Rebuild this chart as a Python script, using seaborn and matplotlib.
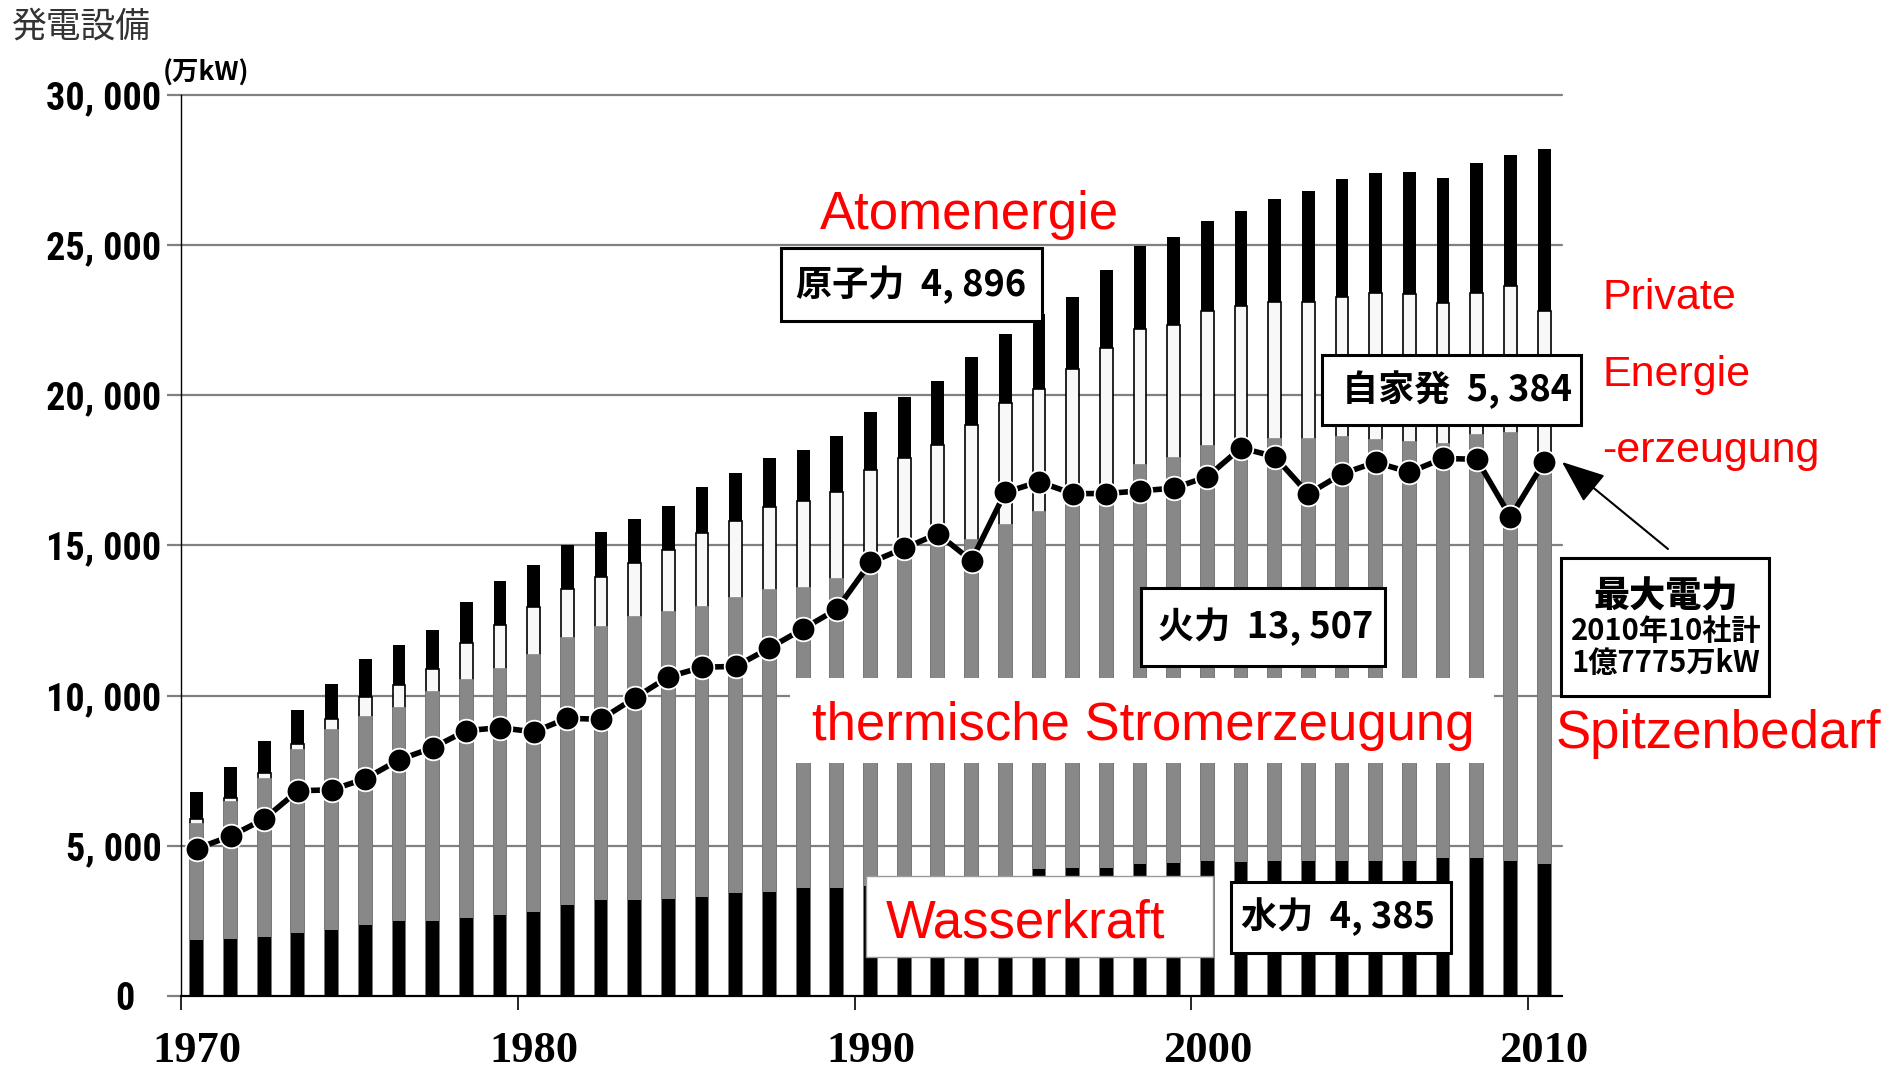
import matplotlib
matplotlib.use("Agg")
import numpy as np
import pandas as pd
import matplotlib.pyplot as plt
import seaborn as sns
from matplotlib import font_manager as fm
from matplotlib.patches import Rectangle

# ---------------- data (万kW) ----------------
years = list(range(1970, 2011))
hydro = [1850, 1890, 1950, 2100, 2200, 2350, 2480, 2480, 2580, 2680,
         2810, 3020, 3180, 3180, 3220, 3280, 3420, 3470, 3590, 3590,
         3650, 3720, 3800, 3880, 3950, 4230, 4250, 4270, 4390, 4440,
         4480, 4470, 4480, 4480, 4490, 4500, 4500, 4580, 4590, 4500, 4385]
thermal = [3870, 4560, 5280, 6100, 6640, 6950, 7120, 7650, 7920, 8210,
           8550, 8910, 9100, 9420, 9550, 9660, 9840, 10030, 9980, 10280,
           10650, 11080, 11450, 11280, 11730, 11880, 12350, 12480, 13290, 13450,
           13810, 14060, 14050, 14050, 14110, 13990, 13930, 13790, 14070, 14220, 13507]
nuclear = [170, 150, 190, 200, 380, 660, 760, 760, 1240, 1470,
           1580, 1630, 1670, 1820, 2070, 2460, 2550, 2770, 2900, 2910,
           3210, 3110, 3100, 3830, 4040, 4100, 4250, 4800, 4500, 4440,
           4500, 4440, 4570, 4570, 4650, 4920, 4940, 4690, 4750, 4920, 4896]
private = [890, 1010, 1070, 1120, 1160, 1260, 1310, 1300, 1380, 1440,
           1390, 1450, 1480, 1470, 1460, 1530, 1590, 1630, 1700, 1840,
           1920, 2040, 2120, 2260, 2320, 2490, 2410, 2610, 2770, 2930,
           2990, 3150, 3430, 3690, 3950, 3980, 4060, 4170, 4300, 4360, 5384]
peak = [4905, 5320, 5890, 6830, 6860, 7230, 7860, 8260, 8830, 8930,
        8790, 9240, 9210, 9920, 10620, 10940, 10970, 11580, 12220, 12870,
        14430, 14900, 15380, 14490, 16760, 17110, 16720, 16720, 16810, 16900,
        17280, 18240, 17950, 16710, 17380, 17760, 17430, 17890, 17860, 15940, 17775]

ytick_values = [0, 5000, 10000, 15000, 20000, 25000, 30000]
ytick_labels = ["0   ", "5, 000", "10, 000", "15, 000", "20, 000", "25, 000", "30, 000"]
xtick_years = [1970, 1980, 1990, 2000, 2010]
xtick_labels = ["1970", "1980", "1990", "2000", "2010"]

# ---------------- style ----------------
sns.set_theme(style="white")
plt.rcParams["font.family"] = ["Noto Sans CJK JP", "DejaVu Sans"]
names = {f.name for f in fm.fontManager.ttflist}
narrow = next((n for n in ["Liberation Sans Narrow", "DejaVu Sans Condensed",
                           "Roboto Condensed", "Liberation Sans"] if n in names), "DejaVu Sans")
serif = "Liberation Serif" if "Liberation Serif" in names else "DejaVu Serif"
sans = "Liberation Sans" if "Liberation Sans" in names else "DejaVu Sans"

df = pd.DataFrame({"year": years, "hydro": hydro, "thermal": thermal,
                   "nuclear": nuclear, "private": private, "peak": peak})
df["pos"] = df["year"] + 0.47
df["top_hydro"] = df["hydro"]
df["top_thermal"] = df["top_hydro"] + df["thermal"]
df["top_nuclear"] = df["top_thermal"] + df["nuclear"]
df["top_total"] = df["top_nuclear"] + df["private"]

W, H = 1891, 1071
fig = plt.figure(figsize=(W / 100, H / 100), dpi=100)
fig.patch.set_facecolor("white")
ax = fig.add_axes([181 / W, (H - 996) / H, (1562 - 181) / W, (996 - 94.5) / H])
ax.set_facecolor("white")

layers = [("top_total", "black", "black", 0.0),
          ("top_nuclear", "#f8f8f8", "black", 1.2),
          ("top_thermal", "#888888", "#888888", 1.2),
          ("top_hydro", "black", "black", 0.0)]
for col, fc, ec, lw in layers:
    sns.barplot(data=df, x="pos", y=col, native_scale=True, width=0.38,
                color=fc, edgecolor=ec, linewidth=lw, saturation=1,
                errorbar=None, ax=ax, zorder=2)

sns.lineplot(data=df, x="pos", y="peak", color="black", linewidth=4,
             marker="o", markersize=17, markeredgecolor="white",
             markeredgewidth=1.3, errorbar=None, ax=ax, zorder=5)

ax.set_xlim(1970, 2011)
ax.set_ylim(0, 30000)
ax.set_xlabel("")
ax.set_ylabel("")
ax.set_yticks(ytick_values, labels=ytick_labels)
ax.yaxis.grid(True, color="#808080", linewidth=1.6)
ax.xaxis.grid(False)
ax.set_axisbelow(True)
for gl in ax.get_ygridlines():
    gl.set_clip_on(False)
for s in ["top", "right"]:
    ax.spines[s].set_visible(False)
ax.spines["left"].set_color("black")
ax.spines["left"].set_linewidth(1.0)
ax.spines["bottom"].set_color("black")
ax.spines["bottom"].set_linewidth(1.5)
ax.spines["left"].set_zorder(6)

ax.tick_params(axis="y", left=True, direction="out", length=10, width=1.6,
               color="#808080", pad=4)
for lab in ax.get_yticklabels():
    lab.set_fontfamily(narrow)
    lab.set_fontsize(27.5)
    lab.set_fontweight("bold")
    lab.set_color("black")

ax.set_xticks(xtick_years, labels=[""] * len(xtick_years))
ax.set_xticks([y + 0.47 for y in xtick_years], labels=xtick_labels, minor=True)
ax.tick_params(axis="x", which="major", bottom=True, direction="out",
               length=10, width=1.2, color="black")
ax.tick_params(axis="x", which="minor", bottom=True, length=0, pad=25)
for lab in ax.get_xticklabels(minor=True):
    lab.set_fontfamily(serif)
    lab.set_fontsize(32)
    lab.set_fontweight("bold")
    lab.set_color("black")

# ---------------- annotations (reference pixel coords) ----------------
def fx(x):
    return x / W

def fy(y):
    return 1 - y / H

def rect(x0, y0, x1, y1, ec="black", lw=2.0, zorder=1):
    r = Rectangle((fx(x0), fy(y1)), (x1 - x0) / W, (y1 - y0) / H,
                  transform=fig.transFigure, facecolor="white",
                  edgecolor=ec, linewidth=lw, zorder=zorder)
    fig.add_artist(r)

fig.text(fx(12), fy(27), "発電設備", fontsize=25, color="#333333",
         ha="left", va="center")
fig.text(fx(163), fy(73), "(万kW)", fontsize=19, fontweight="bold",
         ha="left", va="center", color="black")

# white cover boxes for red labels
rect(790, 678, 1494, 763, ec="none", lw=0)
rect(866, 876, 1213, 957, ec="#999999", lw=1.0)

red = "#ff0000"
fig.text(fx(969), fy(229), "Atomenergie", fontsize=38, color=red,
         family=sans, ha="center", va="baseline")
fig.text(fx(1602), fy(309), "Private", fontsize=31, color=red,
         family=sans, ha="left", va="baseline")
fig.text(fx(1602), fy(386), "Energie", fontsize=31, color=red,
         family=sans, ha="left", va="baseline")
fig.text(fx(1602), fy(462), "-erzeugung", fontsize=31, color=red,
         family=sans, ha="left", va="baseline")
fig.text(fx(812), fy(740), "thermische Stromerzeugung", fontsize=38,
         color=red, family=sans, ha="left", va="baseline", zorder=4)
fig.text(fx(886), fy(938), "Wasserkraft", fontsize=38, color=red,
         family=sans, ha="left", va="baseline", zorder=4)
fig.text(fx(1556), fy(748), "Spitzenbedarf", fontsize=38, color=red,
         family=sans, ha="left", va="baseline")

# black framed value boxes
boxes = [((781, 248, 1042, 321), "原子力  4, 896", (911, 285)),
         ((1322, 355, 1581, 425), "自家発  5, 384", (1457, 390)),
         ((1141, 588, 1385, 666), "火力  13, 507", (1266, 627)),
         ((1231, 882, 1451, 953), "水力  4, 385", (1338, 917))]
for (x0, y0, x1, y1), txt, (cx, cy) in boxes:
    rect(x0, y0, x1, y1, ec="black", lw=2.2)
    fig.text(fx(cx), fy(cy), txt, fontsize=26, fontweight="bold",
             ha="center", va="center", color="black", zorder=4)

rect(1561, 558, 1769, 696, ec="black", lw=2.2)
fig.text(fx(1666), fy(596), "最大電力", fontsize=26, fontweight="heavy",
         ha="center", va="center", color="black", zorder=4)
fig.text(fx(1666), fy(631), "2010年10社計", fontsize=21, fontweight="bold",
         ha="center", va="center", color="black", zorder=4)
fig.text(fx(1666), fy(663), "1億7775万kW", fontsize=21, fontweight="bold",
         ha="center", va="center", color="black", zorder=4)

ax.annotate("", xy=(1562, H - 462), xycoords="figure pixels",
            xytext=(1668, H - 549), textcoords="figure pixels",
            arrowprops=dict(arrowstyle="-|>,head_length=1.5,head_width=0.6",
                            mutation_scale=18, lw=1.5, color="black",
                            shrinkA=0, shrinkB=0),
            annotation_clip=False)

fig.savefig("out.png", dpi=100, facecolor="white")
